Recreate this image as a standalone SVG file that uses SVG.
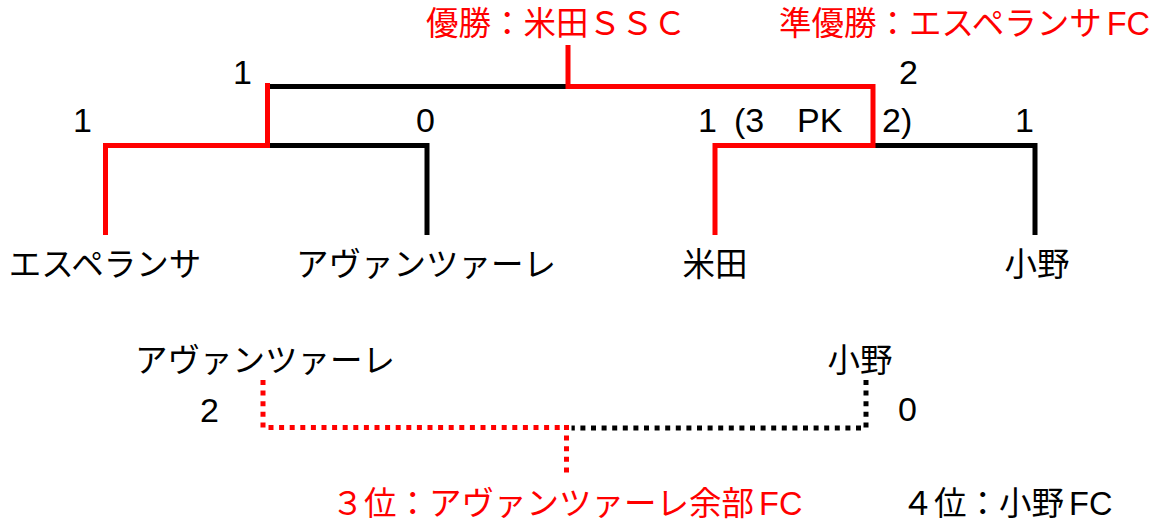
<svg xmlns="http://www.w3.org/2000/svg" width="1171" height="524" viewBox="0 0 1171 524">
<style>
text{font-family:"Liberation Sans","Noto Sans CJK JP",sans-serif;font-size:32.5px;fill:#000}
.red{fill:#ff0000}
.mid{text-anchor:middle}
.num{font-size:34px}
.s{fill:none;stroke-width:5;stroke-linejoin:miter}
.k{stroke:#000}
.r{stroke:#ff0000}
.d{stroke-dasharray:5 5.6}
</style>
<rect width="1171" height="524" fill="#fff"/>
<g id="connectors">
<path class="s k" d="M268,86.5 H568"/>
<path class="s k" d="M268,145.5 H427 V235"/>
<path class="s k" d="M873,145.5 H1035 V235"/>
<path class="s r" d="M105.5,235 V145.5 H267.5 V83"/>
<path class="s r" d="M715,235 V145.5 H873 V86.5 H568 V45"/>
<path class="s k d" d="M866,380 V428 H571.5"/>
<path class="s r d" d="M263,380 V427.5 H569"/>
<path class="s r d" d="M566.5,425 V476"/>
</g>
<g id="champion"><text class="red" x="426" y="35">優勝：米田ＳＳＣ</text></g>
<g id="runner-up"><text class="red" x="779" y="35">準優勝：エスペランサ<tspan dx="5">FC</tspan></text></g>
<g id="scores-final">
<text class="num" x="233" y="84">1</text>
<text class="num" x="899" y="84">2</text>
</g>
<g id="scores-semis">
<text class="num" x="73" y="132">1</text>
<text class="num" x="416" y="132">0</text>
<text class="num" y="132"><tspan x="698">1</tspan><tspan x="734">(3</tspan><tspan x="797">PK</tspan></text>
<text class="num" x="882" y="132">2)</text>
<text class="num" x="1015" y="132">1</text>
</g>
<g id="team-esperanza"><text class="mid" x="105" y="276">エスペランサ</text></g>
<g id="team-avanzare"><text class="mid" x="426" y="276">アヴァンツァーレ</text></g>
<g id="team-yoneda"><text class="mid" x="715" y="276">米田</text></g>
<g id="team-ono"><text class="mid" x="1037" y="276">小野</text></g>
<g id="third-avanzare"><text class="mid" x="265" y="372">アヴァンツァーレ</text></g>
<g id="third-ono"><text class="mid" x="860" y="372">小野</text></g>
<g id="scores-third">
<text class="num" x="200" y="422">2</text>
<text class="num" x="898" y="421">0</text>
</g>
<g id="third-place"><text class="red mid" x="567" y="515">３位：アヴァンツァーレ余部<tspan dx="5">FC</tspan></text></g>
<g id="fourth-place"><text class="mid" x="1007" y="515">４位：小野<tspan dx="5">FC</tspan></text></g>
</svg>
